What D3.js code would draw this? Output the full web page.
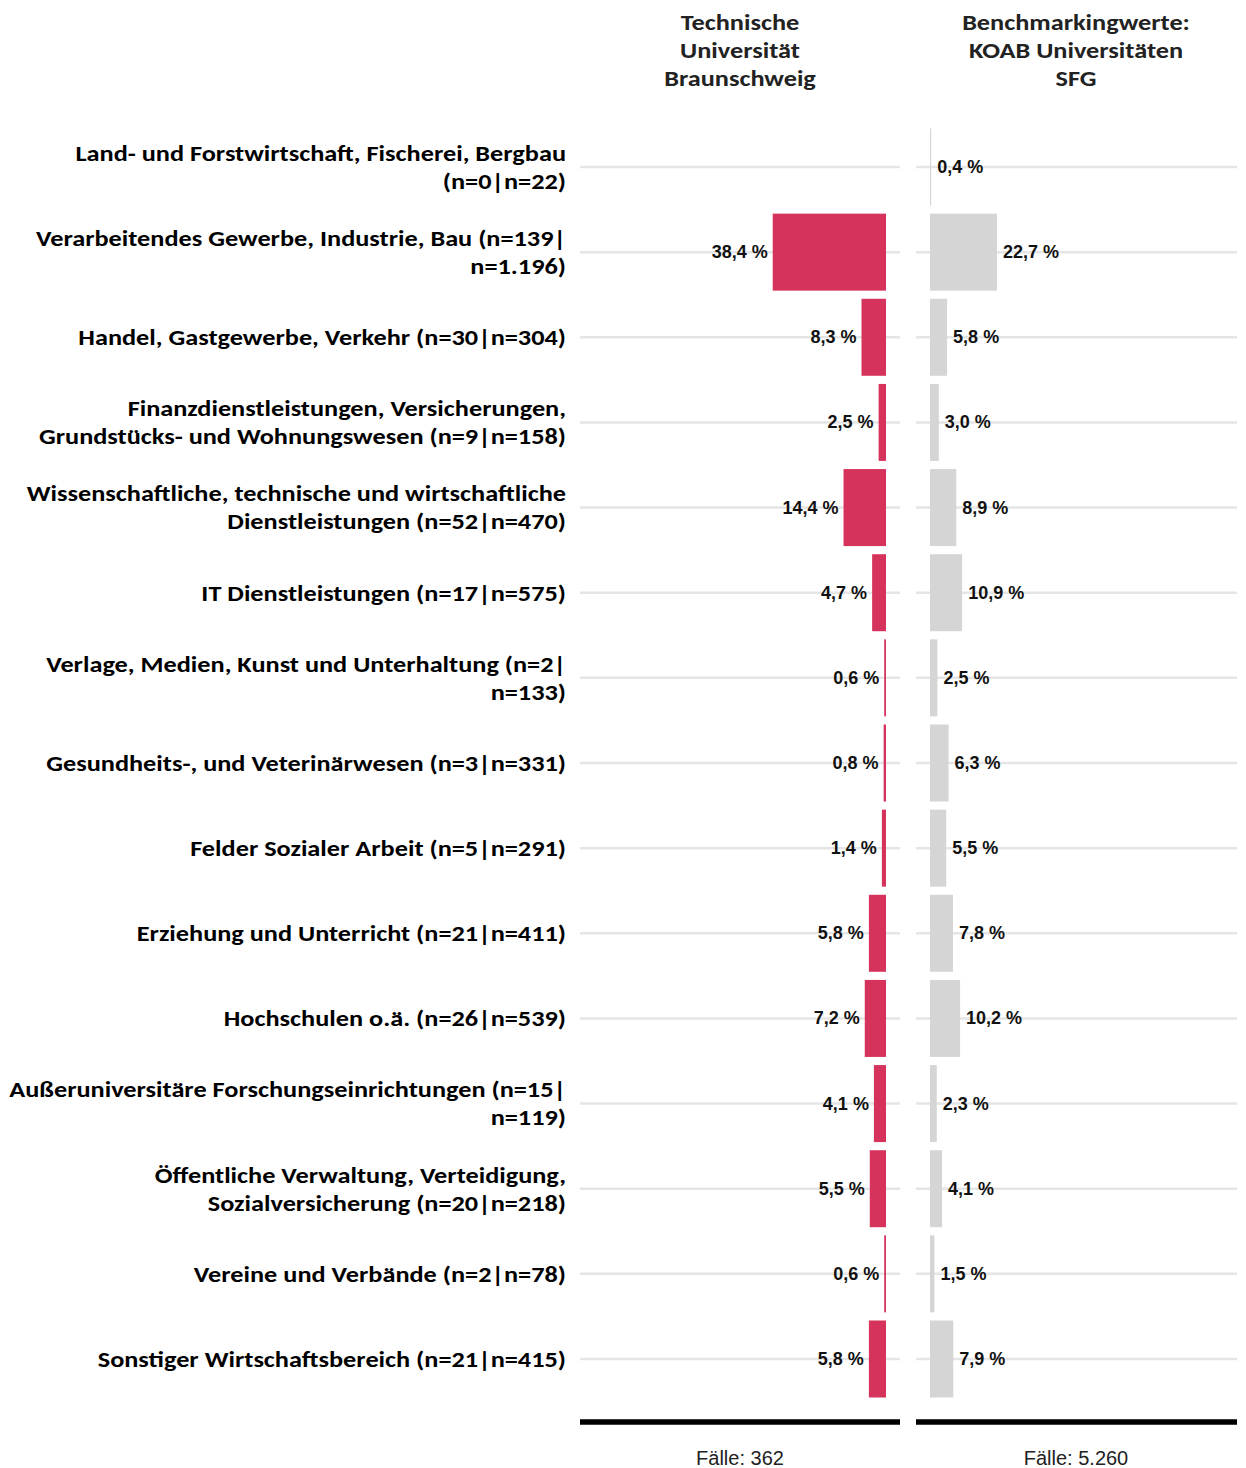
<!DOCTYPE html>
<html><head><meta charset="utf-8">
<script src="https://cdn.jsdelivr.net/npm/d3@7/dist/d3.min.js"></script>
<style>body{margin:0;background:#fff} svg{display:block}</style>
</head><body><svg id="chart" width="1246" height="1468"></svg>
<script>
const categories = [
  ["Land- und Forstwirtschaft, Fischerei, Bergbau", "(n=0|n=22)"],
  ["Verarbeitendes Gewerbe, Industrie, Bau (n=139|", "n=1.196)"],
  ["Handel, Gastgewerbe, Verkehr (n=30|n=304)"],
  ["Finanzdienstleistungen, Versicherungen,", "Grundstücks- und Wohnungswesen (n=9|n=158)"],
  ["Wissenschaftliche, technische und wirtschaftliche", "Dienstleistungen (n=52|n=470)"],
  ["IT Dienstleistungen (n=17|n=575)"],
  ["Verlage, Medien, Kunst und Unterhaltung (n=2|", "n=133)"],
  ["Gesundheits-, und Veterinärwesen (n=3|n=331)"],
  ["Felder Sozialer Arbeit (n=5|n=291)"],
  ["Erziehung und Unterricht (n=21|n=411)"],
  ["Hochschulen o.ä. (n=26|n=539)"],
  ["Außeruniversitäre Forschungseinrichtungen (n=15|", "n=119)"],
  ["Öffentliche Verwaltung, Verteidigung,", "Sozialversicherung (n=20|n=218)"],
  ["Vereine und Verbände (n=2|n=78)"],
  ["Sonstiger Wirtschaftsbereich (n=21|n=415)"]
];
const tuValues    = [0, 38.4, 8.3, 2.5, 14.4, 4.7, 0.6, 0.8, 1.4, 5.8, 7.2, 4.1, 5.5, 0.6, 5.8];
const benchValues = [0.4, 22.7, 5.8, 3.0, 8.9, 10.9, 2.5, 6.3, 5.5, 7.8, 10.2, 2.3, 4.1, 1.5, 7.9];
const headerTU    = ["Technische", "Universität", "Braunschweig"];
const headerBench = ["Benchmarkingwerte:", "KOAB Universitäten", "SFG"];
const caseLabels  = ["Fälle: 362", "Fälle: 5.260"];

const svg = d3.select("#chart");
const labelFont = "Carlito, Calibri, Lato, 'Open Sans', sans-serif";
const valueFont = "'Liberation Sans', Arial, sans-serif";
const fmt = v => v.toFixed(1).replace(".", ",") + " %";

const ids = d3.range(categories.length);
const y = d3.scalePoint().domain(ids).range([167, 1359]);
const barH = 77;

const panelL = [580, 900], panelR = [916, 1237];
const xL = d3.scaleLinear().domain([0, 100]).range([886, 886 - 295]);
const xR = d3.scaleLinear().domain([0, 100]).range([930, 930 + 295]);

// measure horizontal factor to mimic Calibri metrics
const probe = svg.append("text").attr("font-family", labelFont).attr("font-weight", "bold")
  .attr("font-size", 23).text("Land- und Forstwirtschaft, Fischerei, Bergbau");
const sx = 491 / probe.node().getComputedTextLength();
probe.remove();

// gridlines
const g = svg.append("g");
[panelL, panelR].forEach(p => {
  g.selectAll(null).data(ids).enter().append("line")
    .attr("x1", p[0]).attr("x2", p[1])
    .attr("y1", d => y(d)).attr("y2", d => y(d))
    .attr("stroke", "#e5e5e5").attr("stroke-width", 2.5);
});

// left bars
svg.append("g").selectAll("rect").data(ids).enter().append("rect")
  .attr("x", d => xL(tuValues[d])).attr("width", d => xL(0) - xL(tuValues[d]))
  .attr("y", d => y(d) - barH / 2).attr("height", barH)
  .attr("fill", "#d6335c");
// right bars
svg.append("g").selectAll("rect").data(ids).enter().append("rect")
  .attr("x", xR(0)).attr("width", d => Math.max(1, xR(benchValues[d]) - xR(0)))
  .attr("y", d => y(d) - barH / 2).attr("height", barH)
  .attr("fill", "#d5d5d5");

// value labels
svg.append("g").selectAll("text").data(ids.filter(d => tuValues[d] > 0)).enter().append("text")
  .attr("x", d => xL(tuValues[d]) - 5).attr("y", d => y(d))
  .attr("text-anchor", "end").attr("dominant-baseline", "central")
  .attr("font-family", valueFont).attr("font-weight", "bold").attr("font-size", 18)
  .attr("fill", "#111").text(d => fmt(tuValues[d]));
svg.append("g").selectAll("text").data(ids).enter().append("text")
  .attr("x", d => xR(benchValues[d]) + 6).attr("y", d => y(d))
  .attr("text-anchor", "start").attr("dominant-baseline", "central")
  .attr("font-family", valueFont).attr("font-weight", "bold").attr("font-size", 18)
  .attr("fill", "#111").text(d => fmt(benchValues[d]));

// category labels
const cat = svg.append("g");
ids.forEach(i => {
  const lines = categories[i];
  const n = lines.length;
  lines.forEach((ln, k) => {
    const cy = y(i) + (k - (n - 1) / 2) * 28;
    cat.append("text")
      .attr("transform", `translate(566,${cy}) scale(${sx},1)`)
      .attr("text-anchor", "end").attr("dominant-baseline", "central")
      .attr("font-family", labelFont).attr("font-weight", "bold").attr("font-size", 23)
      .attr("fill", "#000").text(ln);
  });
});

// headers
[[headerTU, 740], [headerBench, 1076]].forEach(([lines, cx]) => {
  lines.forEach((ln, k) => {
    svg.append("text")
      .attr("transform", `translate(${cx},${22 + k * 28}) scale(${sx},1)`)
      .attr("text-anchor", "middle").attr("dominant-baseline", "central")
      .attr("font-family", labelFont).attr("font-weight", "bold").attr("font-size", 23)
      .attr("fill", "#222").text(ln);
  });
});

// baseline
[panelL, panelR].forEach(p => {
  svg.append("line").attr("x1", p[0]).attr("x2", p[1]).attr("y1", 1422).attr("y2", 1422)
    .attr("stroke", "#000").attr("stroke-width", 5.5);
});

// case counts
[[caseLabels[0], 740], [caseLabels[1], 1076]].forEach(([t, cx]) => {
  svg.append("text").attr("x", cx).attr("y", 1458)
    .attr("text-anchor", "middle").attr("dominant-baseline", "central")
    .attr("font-family", valueFont).attr("font-size", 20).attr("fill", "#222").text(t);
});
</script></body></html>
